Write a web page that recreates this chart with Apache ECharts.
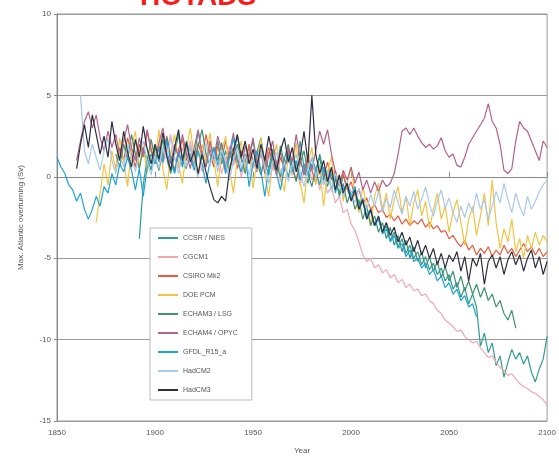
<!DOCTYPE html>
<html>
<head>
<meta charset="utf-8">
<script src="https://cdn.jsdelivr.net/npm/echarts@6/dist/echarts.min.js"></script>
<style>html,body{margin:0;padding:0;background:#fff}#c{width:559px;height:464px}</style>
</head>
<body>
<div id="c"></div>
<script>
var names = ['CCSR / NIES','CGCM1','CSIRO Mk2','DOE PCM','ECHAM3 / LSG','ECHAM4 / OPYC','GFDL_R15_a','HadCM2','HadCM3'];
var colors = ['#2f9d8e','#f4a6b0','#e65c3c','#f0c444','#3f9272','#b3628a','#1ea3d6','#a9c9ec','#2e2e3e'];
var startYears = [1892,1900,1880,1870,1880,1860,1850,1862,1860];
var step = 2;
var xTicks = [1850,1900,1950,2000,2050,2100];
var yTicks = [-15,-10,-5,0,5,10];

var ccsr = [-3.8,-0.5,1.2,0.4,1.8,0.9,2.3,1.1,0.2,1.4,2.6,1.0,0.5,1.9,1.2,2.8,1.5,0.6,1.7,1.0,2.2,0.8,1.6,0.3,1.4,2.5,1.1,0.4,1.8,0.7,1.5,2.4,0.9,0.1,1.3,0.5,1.9,0.8,0.0,1.1,0.4,2.2,0.6,-0.4,0.8,0.2,1.4,0.3,-0.6,0.5,-0.2,-1.0,0.1,-0.7,-1.4,-0.9,-2.0,-1.5,-2.6,-2.1,-3.0,-2.5,-3.4,-3.0,-3.9,-3.4,-4.3,-3.8,-4.7,-4.2,-5.0,-4.6,-5.4,-4.9,-5.7,-5.3,-6.0,-5.6,-6.4,-6.0,-6.9,-6.5,-7.4,-6.8,-7.8,-7.2,-8.0,-10.4,-9.6,-10.8,-10.2,-11.6,-11.0,-12.3,-11.4,-10.6,-11.2,-10.8,-11.5,-11.0,-12.0,-12.6,-11.8,-11.2,-9.8];
var cgcm1 = [1.0,2.0,0.8,1.6,2.6,1.2,0.5,1.8,1.0,2.2,0.9,1.5,0.3,1.2,2.0,0.8,1.4,0.2,1.1,1.9,0.7,1.3,0.0,0.9,1.6,0.5,1.2,0.2,0.8,1.5,0.4,1.0,-0.3,0.6,1.2,0.1,0.7,-0.5,0.3,0.9,-0.2,0.4,-0.8,-0.1,-1.0,-0.6,-1.6,-1.2,-2.2,-2.0,-2.9,-3.3,-4.0,-4.8,-5.2,-5.0,-5.6,-5.4,-5.9,-5.7,-6.2,-6.0,-6.5,-6.3,-6.8,-6.6,-7.0,-6.9,-7.3,-7.2,-7.6,-7.8,-8.2,-8.4,-8.8,-9.0,-9.2,-9.5,-9.4,-9.8,-10.0,-10.2,-10.1,-10.5,-10.8,-11.1,-11.0,-11.4,-11.7,-11.9,-12.2,-12.1,-12.4,-12.7,-12.9,-13.0,-13.2,-13.3,-13.5,-13.7,-14.0];
var csiro = [0.6,1.8,1.0,2.4,1.4,0.6,2.0,1.2,2.8,1.6,0.8,1.9,1.1,2.5,1.3,0.4,1.7,2.3,1.0,1.8,0.7,2.1,1.2,2.6,1.4,0.6,1.9,1.0,2.2,1.1,1.8,0.5,1.6,0.9,2.0,1.0,0.3,1.5,0.7,1.8,0.9,0.1,1.2,0.5,1.6,0.6,-0.2,1.0,0.3,1.3,0.4,-0.4,0.7,0.0,0.9,-0.2,0.4,-0.6,0.2,-0.8,-0.3,-1.2,-0.8,-1.6,-1.3,-2.0,-1.7,-2.2,-2.0,-2.5,-2.3,-2.7,-2.4,-2.9,-2.6,-3.0,-2.7,-2.9,-2.6,-3.1,-2.8,-3.2,-3.0,-3.4,-3.3,-3.8,-3.6,-4.0,-4.3,-3.9,-4.5,-4.2,-4.8,-4.4,-4.7,-4.3,-4.9,-4.5,-4.8,-4.2,-4.7,-4.4,-4.9,-4.5,-4.1,-4.6,-4.3,-4.8,-4.4,-4.9,-4.6];
var doepcm = [-2.8,-1.0,0.8,-0.5,1.6,0.4,2.4,1.0,-0.6,1.8,2.8,0.6,1.9,0.2,2.2,1.0,2.9,0.5,-0.8,1.4,2.6,0.8,-0.4,1.7,3.0,1.2,0.0,2.0,0.9,2.7,1.1,-0.6,1.5,2.5,0.4,-1.0,1.2,2.2,0.3,1.6,-0.7,1.0,2.4,0.2,-1.2,0.9,2.0,0.1,-0.9,1.3,0.4,2.1,-0.3,-1.6,0.8,1.8,-0.5,0.6,-1.8,0.3,1.2,-0.8,0.2,-1.5,-0.4,0.6,-1.0,-2.2,-0.6,-1.8,-3.0,-1.2,-0.4,-2.0,-1.0,-2.6,-1.4,-0.6,-2.2,-1.2,-3.0,-1.6,-0.8,-2.4,-1.5,-3.2,-2.0,-1.0,-2.6,-1.8,-3.4,-2.2,-1.4,-2.8,-4.2,-2.6,-1.8,-3.6,-2.4,-1.0,-3.0,-0.2,-2.8,-4.4,-3.2,-4.0,-2.6,-4.6,-3.8,-5.0,-3.6,-4.4,-3.4,-4.2,-3.6,-4.0];
var lsg = [1.4,0.6,2.0,1.1,2.6,1.4,0.5,1.8,1.0,2.3,1.2,0.4,1.6,2.4,1.1,0.3,1.5,0.8,2.2,1.3,0.6,1.9,2.9,1.4,0.7,1.8,1.0,2.1,0.6,1.5,0.9,2.0,1.1,0.2,1.3,2.2,0.9,0.1,1.2,0.5,1.7,0.8,0.0,1.1,2.0,0.6,-0.3,0.8,1.6,0.2,-0.6,0.5,1.2,-0.2,0.4,-0.8,0.1,-1.2,-0.4,-1.6,-0.9,-2.0,-1.4,-2.6,-1.8,-3.0,-2.4,-3.4,-2.8,-3.8,-3.1,-4.2,-3.6,-4.6,-3.9,-5.0,-4.3,-5.2,-4.6,-5.6,-4.9,-5.8,-5.2,-6.2,-5.5,-6.4,-5.8,-6.8,-6.1,-7.0,-6.4,-7.2,-6.6,-7.4,-6.8,-7.6,-7.2,-8.0,-7.6,-8.4,-8.8,-8.2,-9.3];
var opyc = [1.0,2.2,3.4,4.0,3.0,3.8,2.4,1.6,2.8,1.8,2.6,1.2,2.2,3.2,1.8,1.0,2.4,1.4,2.9,1.7,0.9,2.1,3.0,1.5,0.8,2.0,1.2,2.6,1.4,0.5,1.8,2.9,1.3,0.6,2.2,1.1,2.5,1.6,0.4,1.5,2.7,1.0,0.3,1.9,1.2,2.4,0.8,1.6,0.2,1.3,2.2,0.7,1.5,0.3,1.8,0.9,2.6,1.2,0.1,1.0,0.4,1.6,2.8,2.0,2.9,1.4,0.3,-0.5,0.4,-0.2,0.6,-0.4,0.3,-0.8,-0.2,-1.0,-0.3,-0.9,-0.2,-0.6,-0.4,0.2,1.4,2.8,3.0,2.6,3.0,2.5,2.1,1.8,2.0,1.7,1.9,2.4,1.6,1.2,1.4,0.7,0.6,1.2,2.0,2.4,2.8,3.2,3.6,4.5,3.4,3.0,2.0,0.4,0.2,0.5,2.2,3.4,3.0,2.8,2.2,1.6,1.0,2.2,1.8];
var gfdl = [1.2,0.6,0.2,-0.5,-0.8,-1.5,-1.0,-2.0,-2.6,-2.0,-1.2,-1.8,-0.6,-1.0,0.2,-0.5,0.8,0.3,1.2,0.4,-0.8,0.5,-1.2,0.6,1.4,0.8,1.8,0.9,2.2,1.0,0.2,1.5,0.6,2.0,1.2,0.4,1.6,0.8,-0.4,0.9,1.8,0.7,1.5,0.2,1.2,2.4,1.0,0.3,1.4,-0.6,0.8,1.6,0.4,-1.2,0.5,1.2,0.2,-0.8,0.6,1.4,0.3,1.0,-0.2,0.8,0.1,1.2,0.4,-0.5,0.6,-0.3,0.2,-1.0,0.0,-0.8,-0.4,-1.2,-0.6,-1.8,-1.3,-2.4,-2.0,-3.0,-2.6,-3.5,-3.2,-4.0,-3.6,-4.4,-4.1,-4.9,-4.5,-5.2,-5.0,-5.6,-5.3,-6.0,-5.7,-6.4,-6.1,-6.8,-6.5,-7.2,-6.9,-7.6,-7.3,-8.0,-7.8,-8.6];
var hadcm2 = [5.0,1.6,0.8,2.0,1.2,0.4,1.6,2.4,1.0,0.2,1.4,0.6,2.0,1.2,0.3,1.5,2.2,0.9,0.1,1.3,0.5,1.8,1.0,2.4,1.1,0.2,1.4,0.6,1.9,0.8,0.0,1.2,2.1,0.7,1.5,0.3,1.7,0.9,-0.2,1.0,1.8,0.5,1.3,0.1,1.1,0.4,1.6,0.6,-0.4,0.8,1.5,0.2,0.9,-0.3,0.7,1.4,0.3,-0.6,0.5,1.2,0.0,0.8,-0.5,0.4,-0.9,0.2,-0.4,-1.2,-0.3,-0.9,-1.6,-0.7,-1.4,-2.0,-1.1,-1.8,-0.9,-2.2,-1.3,-1.9,-0.8,-1.6,-2.3,-1.2,-1.8,-0.9,-2.0,-1.4,-0.6,-1.7,-2.4,-1.5,-0.8,-1.9,-1.3,-2.2,-2.8,-1.8,-2.5,-1.6,-2.2,-1.0,-2.0,-1.4,-2.6,-1.8,-0.9,-1.6,-0.4,-1.4,-2.2,-1.0,-1.8,-2.4,-1.2,-2.0,-1.5,-0.9,-0.5,-0.2];
var hadcm3 = [0.5,2.0,3.2,1.8,3.8,2.6,1.4,2.5,1.2,3.4,2.0,1.0,2.8,1.5,0.6,2.3,1.2,3.1,1.7,0.8,2.0,1.1,2.7,1.3,0.4,1.8,2.9,1.0,2.1,0.9,1.6,0.2,1.4,0.3,-0.6,-1.4,-1.6,-1.2,-1.5,0.4,1.6,2.6,1.2,2.2,0.8,1.7,0.5,2.0,1.0,2.5,1.3,0.4,1.6,2.4,0.9,1.8,0.3,1.2,2.8,0.9,5.0,1.4,0.2,1.0,-0.3,0.6,-0.8,0.1,-1.0,-0.4,-1.5,-0.8,-2.0,-1.4,-2.6,-2.0,-3.0,-2.4,-3.4,-2.8,-3.6,-3.1,-4.0,-3.4,-4.2,-3.7,-4.6,-3.9,-4.8,-4.2,-5.0,-4.4,-5.4,-4.7,-5.6,-4.8,-5.2,-4.6,-5.8,-4.9,-6.4,-5.0,-5.5,-4.7,-6.6,-5.2,-4.8,-5.6,-4.9,-6.0,-5.1,-4.6,-5.4,-4.8,-5.8,-5.0,-4.5,-5.6,-4.9,-6.0,-5.2];

var allValues = [ccsr,cgcm1,csiro,doepcm,lsg,opyc,gfdl,hadcm2,hadcm3];

var series = allValues.map(function(vals, k){
  return {
    name: names[k],
    type: 'line',
    showSymbol: false,
    symbol: 'none',
    color: colors[k],
    lineStyle: {width: 1.2, color: colors[k]},
    data: vals.map(function(v,i){ return [startYears[k] + i*step, v]; }),
    z: 2 + k
  };
});

var chart = echarts.init(document.getElementById('c'), null, {renderer:'canvas'});
var font = 'Liberation Sans, Arial, sans-serif';
chart.setOption({
  animation: false,
  backgroundColor: '#fff',
  textStyle: {fontFamily: font},
  grid: {left: 57, right: 6, top: 14, bottom: 43, show: true, borderColor: '#999', borderWidth: 1},
  xAxis: {
    type: 'value', min: 1850, max: 2100, interval: 50,
    name: 'Year', nameLocation: 'middle', nameGap: 26,
    nameTextStyle: {color: '#555', fontSize: 8},
    axisLine: {show: true, lineStyle: {color: '#888'}},
    axisTick: {show: true, inside: true, length: 5, lineStyle: {color: '#888'}},
    axisLabel: {color: '#555', fontSize: 8, margin: 8, formatter: function(v){ return xTicks.indexOf(v) >= 0 ? String(v) : ''; }},
    splitLine: {show: false}
  },
  yAxis: {
    type: 'value', min: -15, max: 10, interval: 5,
    name: 'Max. Atlantic overturning (Sv)', nameLocation: 'middle', nameGap: 32,
    nameTextStyle: {color: '#555', fontSize: 8},
    axisLine: {show: true, lineStyle: {color: '#888'}},
    axisTick: {show: true, inside: false, length: 3, lineStyle: {color: '#888'}},
    axisLabel: {color: '#555', fontSize: 8, margin: 6, formatter: function(v){ return yTicks.indexOf(v) >= 0 ? String(v) : ''; }},
    splitLine: {show: true, lineStyle: {color: '#9a9a9a', width: 1}}
  },
  legend: {
    orient: 'vertical', left: 150, top: 228,
    data: names,
    icon: 'rect',
    backgroundColor: '#fff', borderColor: '#bbb', borderWidth: 1, borderRadius: 0,
    padding: [5, 14, 5, 8],
    itemWidth: 20, itemHeight: 2, itemGap: 9,
    textStyle: {color: '#555', fontSize: 7, lineHeight: 10, fontFamily: font},
    z: 20
  },
  graphic: [{
    type: 'text', left: 140, top: -17, z: 30,
    style: {text: 'HOTADS', fill: '#ff1a1a', font: 'bold 28px ' + font}
  }],
  series: series
});
</script>
</body>
</html>
